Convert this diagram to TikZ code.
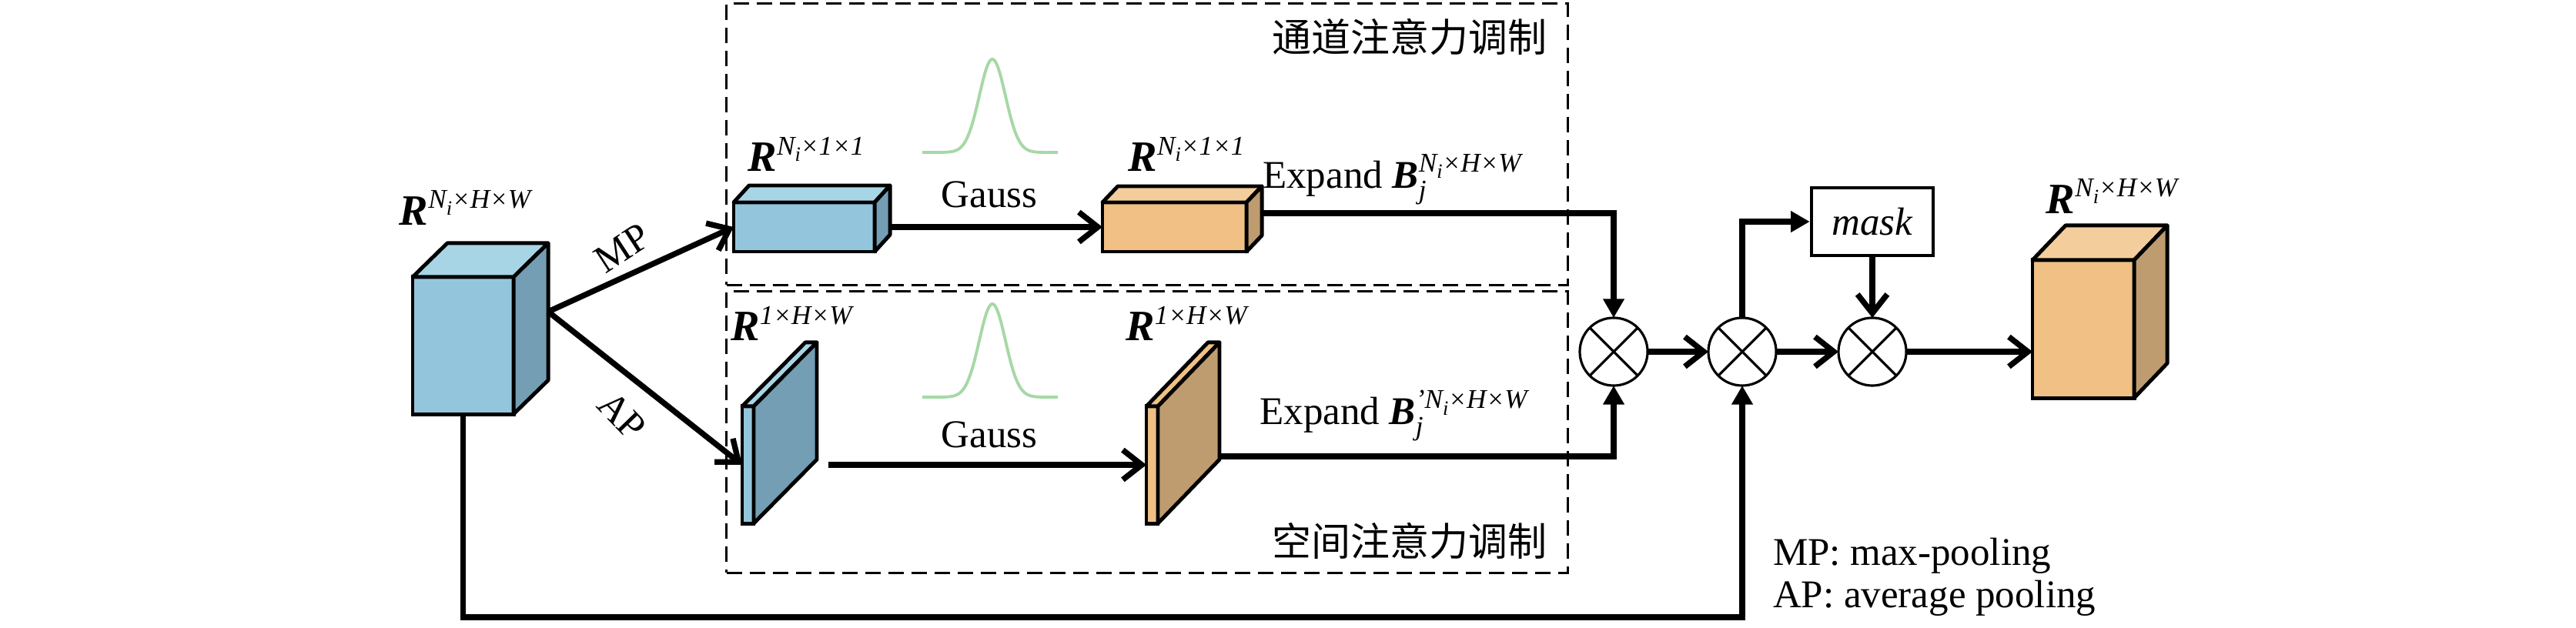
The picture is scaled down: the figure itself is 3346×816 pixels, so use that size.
\documentclass[tikz,border=0pt]{standalone}
\usepackage{fontspec}
\setmainfont{Liberation Serif}
\newfontfamily\cjk{Noto Sans CJK SC}
\usetikzlibrary{arrows.meta,calc}

\definecolor{bfront}{HTML}{93C6DC}
\definecolor{btop}{HTML}{A8D5E6}
\definecolor{bside}{HTML}{739EB4}
\definecolor{ofront}{HTML}{F0C085}
\definecolor{otop}{HTML}{F3CD9B}
\definecolor{oside}{HTML}{BE9C6F}
\definecolor{gcurve}{HTML}{A6D8A6}

\newcommand{\Ni}{N\raisebox{-2.5pt}{\fontsize{7.5}{7.5}\selectfont i}}
\newcommand{\Rl}[1]{{\fontsize{16}{16}\selectfont\bfseries\itshape R}\raisebox{6pt}{\fontsize{10}{10}\selectfont\itshape #1}}
\newcommand{\Bj}[1]{{\bfseries\itshape B}\rlap{\raisebox{-4pt}{\fontsize{10}{10}\selectfont\itshape j}}\raisebox{6pt}{\fontsize{10}{10}\selectfont\itshape #1}}

\newcommand{\mybox}[5]{%
  \draw[cubeline,fill=#4] (#1.north west) -- ++(#2,-#3) -- ($(#1.north east)+(#2,-#3)$) -- (#1.north east) -- cycle;
  \draw[cubeline,fill=#5] (#1.north east) -- ++(#2,-#3) -- ($(#1.south east)+(#2,-#3)$) -- (#1.south east) -- cycle;
}

\tikzset{
  cubefront/.style={draw, line width=1.4pt, inner sep=0pt, outer sep=0pt},
  cubeline/.style={line width=1.4pt, line join=round},
  txt/.style={inner sep=0pt, outer sep=0pt},
  arr/.style={line width=2.1pt, -{Straight Barb[length=7pt,width=11pt]}},
  arrF/.style={line width=2.1pt, -{Triangle[length=7pt,width=7.5pt]}},
  mult/.style={circle, draw, line width=0.9pt, minimum size=0.88cm, inner sep=0pt, outer sep=0pt,
    path picture={\draw[line width=0.9pt] (path picture bounding box.north west) -- (path picture bounding box.south east)
      (path picture bounding box.north east) -- (path picture bounding box.south west);}},
  dbox/.style={draw, line width=0.9pt, dash pattern=on 0.2cm off 0.1cm, inner sep=0pt, outer sep=0pt},
  maskbox/.style={draw, line width=1.3pt, minimum width=1.58cm, minimum height=0.88cm, inner sep=0pt},
  gauss/.style={gcurve, line width=1.1pt}
}

\begin{document}
\begin{tikzpicture}[x=0.01cm, y=-0.01cm, font=\fontsize{14.5}{17}\selectfont]
\useasboundingbox (0,0) rectangle (3346,816);

% dashed boxes
\node[dbox, minimum width=10.92cm, minimum height=3.65cm] (chbox) at (1490,187.5) {};
\node[dbox, minimum width=10.92cm, minimum height=3.65cm] (spbox) at (1490,561.5) {};
\node[txt] (tch) at (1831,48) {\cjk 通道注意力调制};
\node[txt] (tsp) at (1831,703) {\cjk 空间注意力调制};

% input cube
\node[cubefront, fill=bfront, minimum width=1.31cm, minimum height=1.78cm] (in) at (601.5,449) {};
\mybox{in}{45}{44}{btop}{bside}
\node[txt] (lin) at (604,270) {\Rl{\Ni×H×W}};

% channel branch
\node[cubefront, fill=bfront, minimum width=1.83cm, minimum height=0.64cm] (cmp) at (1044.5,295) {};
\mybox{cmp}{20}{22}{btop}{bside}
\node[txt] (lcmp) at (1047,200) {\Rl{\Ni×1×1}};
\node[cubefront, fill=ofront, minimum width=1.87cm, minimum height=0.64cm] (cg) at (1525.5,295) {};
\mybox{cg}{20}{21}{otop}{oside}
\node[txt] (lcg) at (1541,200) {\Rl{\Ni×1×1}};

% spatial branch
\node[cubefront, fill=bfront, minimum width=0.15cm, minimum height=1.52cm] (sap) at (971.5,604) {};
\mybox{sap}{82}{83}{btop}{bside}
\node[txt] (lsap) at (1028,420) {\Rl{1×H×W}};
\node[cubefront, fill=ofront, minimum width=0.15cm, minimum height=1.52cm] (sg) at (1496.5,604) {};
\mybox{sg}{80}{83}{ofront}{oside}
\node[txt] (lsg) at (1541,420) {\Rl{1×H×W}};

% gauss curves
\draw[gauss] plot[domain=-91:85, samples=120, smooth] ({1289+\x},{198-121*exp(-0.5*(\x/17)^2)});
\draw[gauss] plot[domain=-91:85, samples=120, smooth] ({1289+\x},{516-121*exp(-0.5*(\x/17)^2)});
\node[txt] (g1) at (1285,253) {Gauss};
\node[txt] (g2) at (1285,565) {Gauss};

% MP / AP arrows
\coordinate (split) at (712,405);
\draw[arr] (split) -- (cmp.west);
\draw[arr] (split) -- (sap.west);
\node[txt, rotate=33] (mpl) at (808,322) {MP};
\node[txt, rotate=-46] (apl) at (808,540) {AP};

\draw[arr] ($(cmp.east)+(22,0)$) -- (cg.west);
\draw[arr] ($(sap.east)+(97,0)$) -- (sg.west);

% multipliers
\node[mult] (c1) at (2096,457) {};
\node[mult] (c2) at (2263,457) {};
\node[mult] (c3) at (2432,457) {};
\node[maskbox] (mask) at (2432,288) {\itshape mask};

% output cube
\node[cubefront, fill=ofront, minimum width=1.32cm, minimum height=1.79cm] (out) at (2706,427.5) {};
\mybox{out}{43}{45}{otop}{oside}
\node[txt] (lout) at (2743,255) {\Rl{\Ni×H×W}};

% expand lines
\draw[arrF] ($(cg.east)+(20,-18)$) -| (c1.north);
\node[txt] (e1) at (1808,233) {Expand \Bj{\Ni×H×W}};
\draw[arrF] ($(sg.east)+(80,-11)$) -| (c1.south);
\node[txt] (e2) at (1810,540) {Expand \Bj{’\Ni×H×W}};

\draw[arr] (c1.east) -- (c2.west);
\draw[arr] (c2.east) -- (c3.west);
\draw[arr] (c3.east) -- (c3.east -| out.west);
\draw[arrF] (c2.north) |- (mask.west);
\draw[arr] (mask.south) -- (c3.north);

% skip connection
\draw[arrF] (in.south) -- ++(0,264) -| (c2.south);

% legend
\node[txt, anchor=west] (leg1) at (2303,722) {MP: max-pooling};
\node[txt, anchor=west] (leg2) at (2303,777) {AP: average pooling};
\end{tikzpicture}
\end{document}
